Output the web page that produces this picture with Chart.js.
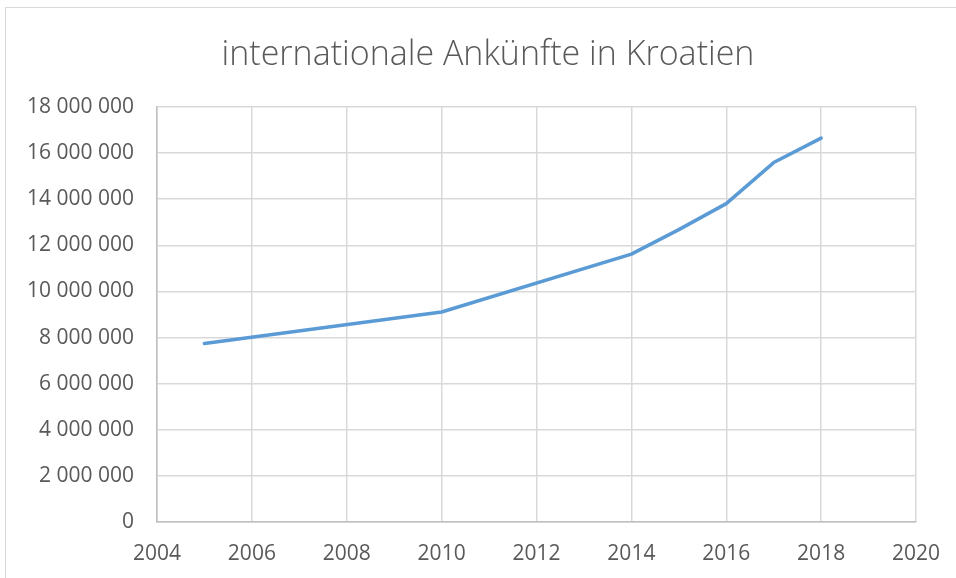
<!DOCTYPE html>
<html>
<head>
<meta charset="utf-8">
<script src="https://cdn.jsdelivr.net/npm/chart.js@4/dist/chart.umd.min.js"></script>
<style>
  html, body { margin: 0; padding: 0; background: #fff; }
  #wrap { position: absolute; left: 0; top: 0; width: 956px; height: 578px; overflow: hidden; }
  #frame { position: absolute; left: 5px; top: 7px; width: 960px; height: 600px; border: 1.5px solid #D9D9D9; box-sizing: border-box; }
  canvas { position: absolute; left: 0; top: 0; }
  #title { position: absolute; left: 88px; width: 800px; text-align: center; color: #595959;
           font-family: 'Open Sans', 'Liberation Sans', sans-serif; font-weight: 300; white-space: nowrap; }
</style>
</head>
<body>
<div id="wrap">
  <div id="frame"></div>
  <canvas id="c" width="956" height="578"></canvas>
  <div id="title"></div>
</div>
<script>
// Data
const titleText = "internationale Ankünfte in Kroatien";
const years = [2005, 2010, 2014, 2015, 2016, 2017, 2018];
const arrivals = [7740000, 9110000, 11620000, 12680000, 13810000, 15590000, 16650000];
const xTickValues = [2004, 2006, 2008, 2010, 2012, 2014, 2016, 2018, 2020];
const yTickValues = [0, 2000000, 4000000, 6000000, 8000000, 10000000, 12000000, 14000000, 16000000, 18000000];

const FONT = "'Open Sans', 'Liberation Sans', sans-serif";
const TEXT = "#595959";
const GRID = "#D9D9D9";

// title: real text, sized to the reference width
const mctx = document.createElement('canvas').getContext('2d');
mctx.font = "300 30px " + FONT;
const titleSize = Math.round(30 * 533 / mctx.measureText(titleText).width * 10) / 10;
const titleEl = document.getElementById('title');
titleEl.textContent = titleText;
titleEl.style.fontSize = titleSize + "px";
titleEl.style.lineHeight = (titleSize * 1.3) + "px";
titleEl.style.top = (52 - titleSize * 0.65) + "px";

function fmtY(v) {
  return String(v).replace(/\B(?=(\d{3})+(?!\d))/g, " ");
}

const points = years.map((y, i) => ({ x: y, y: arrivals[i] }));

new Chart(document.getElementById('c'), {
  type: 'line',
  data: {
    datasets: [{
      data: points,
      borderColor: "#5B9BD5",
      borderWidth: 3.5,
      pointRadius: 0,
      tension: 0,
      fill: false,
      borderCapStyle: 'round',
      borderJoinStyle: 'round'
    }]
  },
  options: {
    responsive: false,
    animation: false,
    devicePixelRatio: 1,
    layout: { padding: { left: 0, right: 40, top: 107, bottom: 0 } },
    plugins: {
      legend: { display: false },
      tooltip: { enabled: false },
      title: { display: false }
    },
    scales: {
      x: {
        type: 'linear',
        min: 2004,
        max: 2020,
        afterBuildTicks: (s) => { s.ticks = xTickValues.map(v => ({ value: v })); },
        afterFit: (s) => { s.height = 56; s.paddingRight = 0; s.paddingLeft = 0; },
        ticks: {
          color: TEXT,
          font: { family: FONT, size: 21 },
          padding: 19,
          maxRotation: 0,
          callback: (v) => String(v)
        },
        grid: { color: GRID, lineWidth: 1.5, drawTicks: false },
        border: { color: "#BFBFBF", width: 1.5 }
      },
      y: {
        type: 'linear',
        min: 0,
        max: 18000000,
        afterBuildTicks: (s) => { s.ticks = yTickValues.map(v => ({ value: v })); },
        afterFit: (s) => { s.width = 157; s.paddingTop = 0; s.paddingBottom = 0; },
        ticks: {
          color: TEXT,
          font: { family: FONT, size: 21 },
          padding: 23,
          callback: (v) => fmtY(v)
        },
        grid: { color: GRID, lineWidth: 1.5, drawTicks: false },
        border: { color: "#BFBFBF", width: 1.5 }
      }
    }
  }
});
</script>
</body>
</html>
